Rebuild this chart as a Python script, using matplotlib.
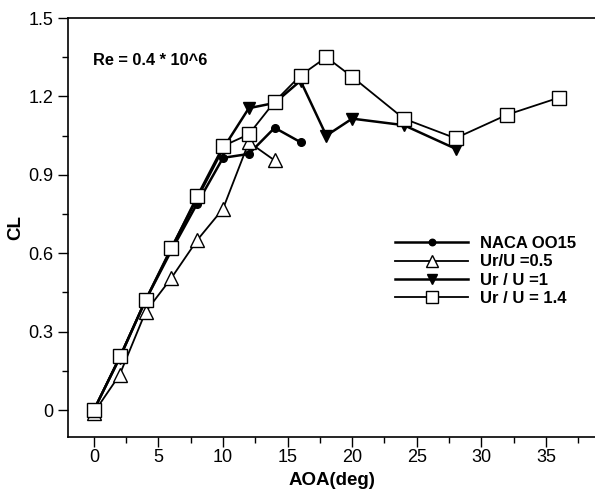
import matplotlib
matplotlib.use("Agg")
import matplotlib.pyplot as plt
from matplotlib.ticker import MultipleLocator

plt.rcParams['font.family'] = ['Liberation Sans', 'DejaVu Sans']

# data (AOA in deg, CL)
aoa_naca = [0, 2, 4, 6, 8, 10, 12, 14, 16]
cl_naca = [0.0, 0.20, 0.42, 0.61, 0.79, 0.965, 0.98, 1.08, 1.025]

aoa_05 = [0, 2, 4, 6, 8, 10, 12, 14]
cl_05 = [-0.01, 0.135, 0.375, 0.505, 0.65, 0.77, 1.025, 0.955]

aoa_10 = [0, 2, 4, 6, 8, 10, 12, 14, 16, 18, 20, 24, 28]
cl_10 = [0.0, 0.20, 0.42, 0.62, 0.81, 1.0, 1.155, 1.175, 1.26, 1.05, 1.115, 1.09, 1.0]

aoa_14 = [0, 2, 4, 6, 8, 10, 12, 14, 16, 18, 20, 24, 28, 32, 36]
cl_14 = [0.0, 0.205, 0.42, 0.62, 0.82, 1.01, 1.055, 1.18, 1.28, 1.35, 1.275, 1.115, 1.04, 1.13, 1.195]

labels = ['NACA OO15', 'Ur/U =0.5', 'Ur / U =1', 'Ur / U = 1.4']

fig = plt.figure(figsize=(5.95, 4.91), dpi=100)
ax = fig.add_axes([68/595, 1-437/491, 1-68/595, (437-18)/491])

ax.plot(aoa_naca, cl_naca, color='black', lw=1.8, marker='o', ms=5.5,
        mfc='black', mec='black', label=labels[0])
ax.plot(aoa_05, cl_05, color='black', lw=1.3, marker='^', ms=10,
        mfc='white', mec='black', mew=1.0, label=labels[1])
ax.plot(aoa_10, cl_10, color='black', lw=1.8, marker='v', ms=9,
        mfc='black', mec='black', label=labels[2])
ax.plot(aoa_14, cl_14, color='black', lw=1.3, marker='s', ms=9.5,
        mfc='white', mec='black', mew=1.0, label=labels[3])

ax.set_xlim(-2, 38.8)
ax.set_ylim(-0.103, 1.5)
ax.xaxis.set_major_locator(MultipleLocator(5))
ax.xaxis.set_minor_locator(MultipleLocator(2.5))
ax.yaxis.set_major_locator(MultipleLocator(0.3))
ax.yaxis.set_minor_locator(MultipleLocator(0.15))
ax.set_yticks([0, 0.3, 0.6, 0.9, 1.2, 1.5])
ax.set_yticklabels(['0', '0.3', '0.6', '0.9', '1.2', '1.5'])

ax.tick_params(which='both', direction='out', top=False, right=False, labelsize=13)
ax.tick_params(which='major', length=7, width=1)
ax.tick_params(which='minor', length=4, width=1)
ax.tick_params(axis='x', pad=2)

ax.spines['right'].set_visible(False)
for s in ['left', 'bottom', 'top']:
    ax.spines[s].set_linewidth(1.2)

ax.set_xlabel('AOA(deg)', fontsize=13.5, fontweight='bold')
ax.xaxis.set_label_coords(0.5, -0.083)
ax.set_ylabel('CL', fontsize=13.5, fontweight='bold')
ax.yaxis.set_label_coords(-0.083, 0.5)

ax.text(-0.1, 1.337, 'Re = 0.4 * 10^6', fontsize=11.8, fontweight='bold',
        va='center', ha='left')

fig.legend(loc='upper left', bbox_to_anchor=(395/595, 1-236/491), frameon=False,
           prop={'weight': 'bold', 'size': 12}, handlelength=4.4, handletextpad=0.72,
           labelspacing=0.2, borderpad=0, borderaxespad=0, markerscale=0.85)

fig.savefig('out.png', dpi=100)
